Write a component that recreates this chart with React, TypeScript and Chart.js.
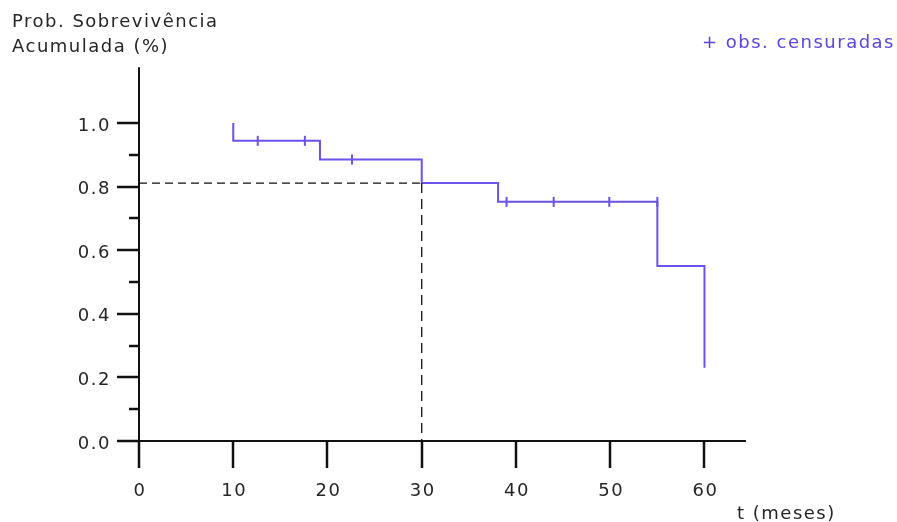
import React, { useEffect, useRef } from 'react';
import { Chart, registerables } from 'chart.js';

Chart.register(...registerables);

// Kaplan-Meier step curve (time in months, cumulative survival probability)
const eventTimes = [10, 10, 19.2, 30, 38.1, 55, 60];
const survival = [1.0, 0.944, 0.885, 0.811, 0.752, 0.55, 0.23];

// Censored observations
const censorTimes = [12.6, 17.6, 22.6, 39, 44, 49.9, 55];
const censorSurvival = [0.944, 0.944, 0.885, 0.752, 0.752, 0.752, 0.752];

// Reference (dashed) lines
const refTime = 30;
const refSurvival = 0.811;

// Axis ticks
const xTickValues = [0, 10, 20, 30, 40, 50, 60];
const xTickLabels = ['0', '10', '20', '30', '40', '50', '60'];
const yTickValues = [0, 0.2, 0.4, 0.6, 0.8, 1.0];
const yTickLabels = ['0.0', '0.2', '0.4', '0.6', '0.8', '1.0'];
const yMinorTicks = [0.1, 0.3, 0.5, 0.7, 0.9];

const xAxisEnd = 64.4;
const yAxisTop = 1.175;

const yTitleLines = ['Prob. Sobrevivência', 'Acumulada (%)'];
const xTitle = 't (meses)';
const legendText = '+ obs. censuradas';

const LINE_COLOR = '#6a52ea';
const TEXT_COLOR = '#262626';
const FONT = '18px "DejaVu Sans"';

export default function App() {
  const ref = useRef<HTMLCanvasElement>(null);

  useEffect(() => {
    const canvas = ref.current;
    if (!canvas) return;

    const axesPlugin = {
      id: 'kmAxes',
      beforeDatasetsDraw(chart: any) {
        const { ctx } = chart;
        const x = chart.scales.x;
        const y = chart.scales.y;
        const x0 = Math.round(x.getPixelForValue(0));
        const y0 = Math.round(y.getPixelForValue(0));
        const seg = (ax: number, ay: number, bx: number, by: number) => {
          ctx.beginPath();
          ctx.moveTo(ax, ay);
          ctx.lineTo(bx, by);
          ctx.stroke();
        };
        ctx.save();
        ctx.strokeStyle = '#111111';
        ctx.lineCap = 'butt';
        ctx.lineWidth = 2;
        // axis lines
        seg(x0, y.getPixelForValue(yAxisTop), x0, y0 + 27);
        seg(x0 - 22, y0, x.getPixelForValue(xAxisEnd), y0);
        ctx.lineWidth = 2.5;
        xTickValues.forEach((v) => {
          const px = Math.round(x.getPixelForValue(v));
          seg(px, y0, px, y0 + 27);
        });
        yTickValues.forEach((v) => {
          const py = Math.round(y.getPixelForValue(v));
          seg(x0 - 22, py, x0, py);
        });
        yMinorTicks.forEach((v) => {
          const py = Math.round(y.getPixelForValue(v));
          seg(x0 - 10, py, x0, py);
        });

        // labels
        ctx.font = FONT;
        (ctx as any).letterSpacing = '1.5px';
        ctx.fillStyle = TEXT_COLOR;
        ctx.textBaseline = 'alphabetic';
        ctx.textAlign = 'right';
        yTickValues.forEach((v, i) => {
          const py = y.getPixelForValue(v);
          ctx.fillText(yTickLabels[i], x0 - 28, py + 7.5);
        });
        ctx.textAlign = 'center';
        xTickValues.forEach((v, i) => {
          const px = x.getPixelForValue(v);
          ctx.fillText(xTickLabels[i], px + 1, y0 + 55);
        });
        ctx.textAlign = 'left';
        ctx.fillText(yTitleLines[0], 12, 27);
        ctx.fillText(yTitleLines[1], 12, 52);
        ctx.fillText(xTitle, 737, 519);
        ctx.fillStyle = '#5746e0';
        ctx.fillText(legendText, 702, 48);
        ctx.restore();
      },
    };

    const curve = eventTimes.map((t, i) => ({ x: t, y: survival[i] }));
    const censored = censorTimes.map((t, i) => ({ x: t, y: censorSurvival[i] }));
    const refLine = [
      { x: 0, y: refSurvival },
      { x: refTime, y: refSurvival },
      { x: refTime, y: 0 },
    ];

    const chart = new Chart(canvas, {
      type: 'scatter',
      data: {
        datasets: [
          {
            label: 'ref',
            data: refLine,
            showLine: true,
            borderColor: '#111111',
            borderWidth: 1.3,
            borderDash: [8, 5],
            segment: {
              borderDash: (c: any) => (c.p0DataIndex === 1 ? [10, 6] : [8, 5]),
            },
            pointRadius: 0,
            clip: false,
          } as any,
          {
            label: 'KM',
            data: curve,
            showLine: true,
            stepped: 'before',
            borderColor: LINE_COLOR,
            borderWidth: 2,
            pointRadius: 0,
            clip: false,
          } as any,
          {
            label: 'obs. censuradas',
            data: censored,
            showLine: false,
            pointStyle: 'line',
            rotation: 90,
            pointRadius: 5,
            borderColor: LINE_COLOR,
            borderWidth: 2,
            clip: false,
          } as any,
        ],
      },
      options: {
        animation: false,
        responsive: false,
        events: [],
        layout: { padding: { left: 139, right: 897 - 139 - 612.6, top: 441 - 381.6, bottom: 81 } },
        plugins: { legend: { display: false }, tooltip: { enabled: false } },
        scales: {
          x: { type: 'linear', min: 0, max: 65, display: false },
          y: { type: 'linear', min: 0, max: 1.2, display: false },
        },
      },
      plugins: [axesPlugin],
    });

    return () => chart.destroy();
  }, []);

  return (
    <div style={{ position: 'fixed', left: 0, top: 0, width: 897, height: 522, background: '#ffffff' }}>
      <canvas ref={ref} width={897} height={522} style={{ display: 'block' }} />
    </div>
  );
}
